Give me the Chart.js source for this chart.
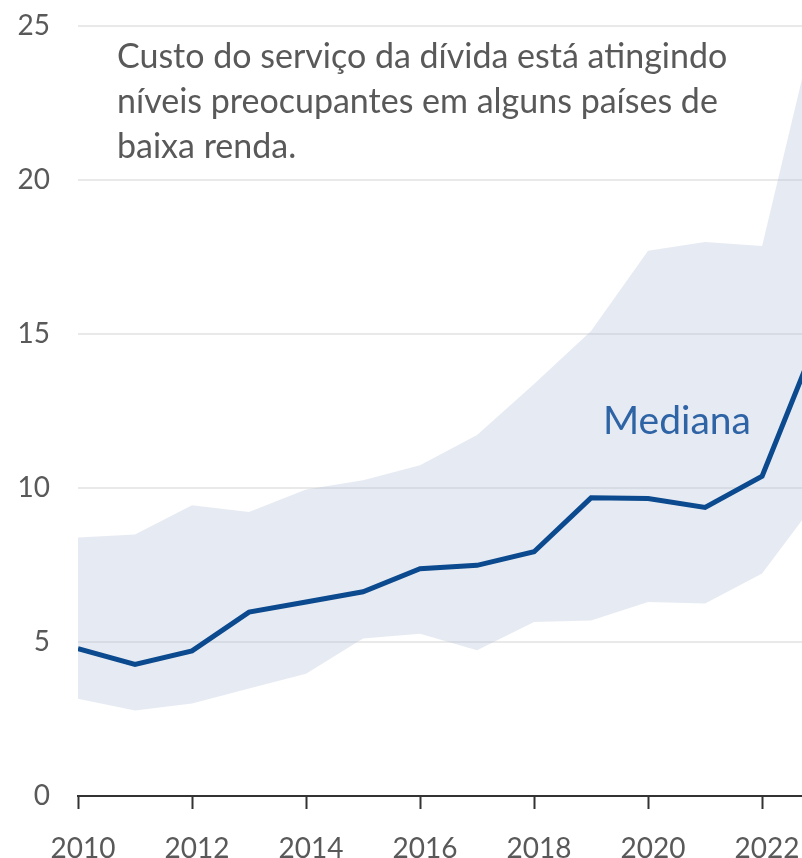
<!DOCTYPE html>
<html>
<head>
<meta charset="utf-8">
<script src="https://cdn.jsdelivr.net/npm/chart.js@4/dist/chart.umd.min.js"></script>
<style>
  html, body { margin: 0; padding: 0; background: #fff; }
  #wrap { width: 802px; height: 858px; }
</style>
</head>
<body>
<div id="wrap"><canvas id="debtChart" width="802" height="858"></canvas></div>
<script>
// debt service cost, % — median and spread across low-income countries
const years = [2010, 2011, 2012, 2013, 2014, 2015, 2016, 2017, 2018, 2019, 2020, 2021, 2022, 2023];
const median = [4.78, 4.27, 4.71, 5.97, 6.30, 6.63, 7.38, 7.49, 7.93, 9.68, 9.66, 9.37, 10.38, 15.0];
const upper = [8.39, 8.49, 9.44, 9.22, 9.95, 10.25, 10.74, 11.72, 13.38, 15.1, 17.70, 17.99, 17.86, 25.6];
const lower = [3.16, 2.78, 3.00, 3.49, 3.97, 5.11, 5.27, 4.73, 5.65, 5.70, 6.30, 6.25, 7.22, 9.7];

const xTicks = [2010, 2012, 2014, 2016, 2018, 2020, 2022];
const yTicks = [0, 5, 10, 15, 20, 25];

const noteLines = [
    "Custo do serviço da dívida está atingindo",
    "níveis preocupantes em alguns países de",
    "baixa renda."
];
const medianLabel = "Mediana";

const FONT = "Lato, 'Open Sans', sans-serif";

function toPoints(values) {
    return years.map((yr, i) => ({ x: yr, y: values[i] }));
}

// text annotations inside the plot
const notesPlugin = {
    id: 'notes',
    afterDatasetsDraw(chart) {
        const ctx = chart.ctx;
        ctx.save();
        ctx.textAlign = 'left';
        ctx.textBaseline = 'alphabetic';
        ctx.fillStyle = '#595959';
        ctx.font = "34px " + FONT;
        noteLines.forEach((line, i) => {
            ctx.fillText(line, 117, 68 + i * 45);
        });
        ctx.fillStyle = '#2e64a6';
        ctx.font = "39px " + FONT;
        ctx.fillText(medianLabel, 603, 434);
        ctx.restore();
    }
};

const ctx = document.getElementById("debtChart").getContext("2d");

new Chart(ctx, {
    type: 'line',
    data: {
        datasets: [
            {
                label: 'upper',
                data: toPoints(upper),
                borderWidth: 0,
                pointRadius: 0,
                backgroundColor: 'rgba(180, 190, 215, 0.33)',
                fill: '+1',
                order: 2
            },
            {
                label: 'lower',
                data: toPoints(lower),
                borderWidth: 0,
                pointRadius: 0,
                fill: false,
                order: 2
            },
            {
                label: 'Mediana',
                data: toPoints(median),
                borderColor: '#0b4a8e',
                borderWidth: 5,
                pointRadius: 0,
                fill: false,
                tension: 0,
                borderJoinStyle: 'miter',
                order: 1
            }
        ]
    },
    options: {
        responsive: false,
        animation: false,
        layout: { padding: { top: 26, right: 0, left: 0, bottom: 0 } },
        plugins: {
            legend: { display: false },
            tooltip: { enabled: false }
        },
        scales: {
            x: {
                type: 'linear',
                min: 2010,
                max: 2022.7,
                afterBuildTicks: scale => {
                    scale.ticks = xTicks.map(v => ({ value: v }));
                },
                afterFit: scale => {
                    scale.height = 62;
                    scale.paddingLeft = 0;
                    scale.paddingRight = 0;
                },
                ticks: {
                    color: '#595959',
                    font: { family: FONT, size: 28 },
                    padding: 23,
                    labelOffset: 5,
                    maxRotation: 0,
                    callback: v => String(v)
                },
                grid: {
                    drawOnChartArea: false,
                    drawTicks: true,
                    tickLength: 13,
                    tickWidth: 2,
                    color: '#333'
                },
                border: { display: true, color: '#333', width: 2 }
            },
            y: {
                min: 0,
                max: 25,
                afterBuildTicks: scale => {
                    scale.ticks = yTicks.map(v => ({ value: v }));
                },
                afterFit: scale => {
                    scale.width = 78;
                    scale.paddingTop = 0;
                    scale.paddingBottom = 0;
                },
                ticks: {
                    color: '#595959',
                    font: { family: FONT, size: 28 },
                    padding: 28
                },
                grid: {
                    drawTicks: false,
                    lineWidth: 2,
                    color: ctx => ctx.tick.value === 0 ? 'rgba(0,0,0,0)' : '#e9e9e9'
                },
                border: { display: false }
            }
        }
    },
    plugins: [notesPlugin]
});
</script>
</body>
</html>
